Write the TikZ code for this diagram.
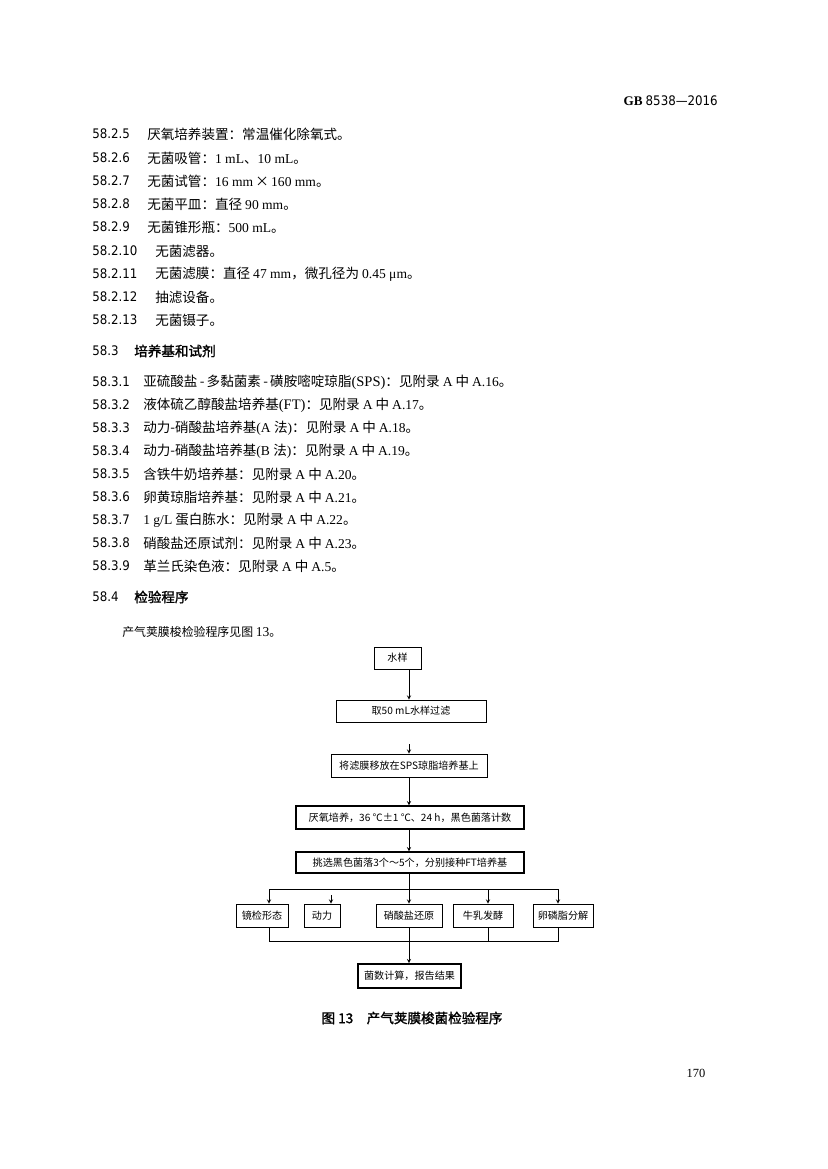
\documentclass[tikz,border=0pt]{standalone}
\usepackage{fontspec}
\setmainfont{Noto Sans CJK SC}
\newfontfamily\latf{Liberation Serif}
\newfontfamily\numf{DejaVu Sans Condensed}
\newfontfamily\cjkb{Noto Sans CJK SC}[FakeBold=1.5]
\def\pxl{0.254mm}

\begin{document}
\begin{tikzpicture}[x=0.254mm,y=-0.254mm,>=stealth]
  % Styles
    \tikzstyle{num}=[anchor=west,inner sep=0pt,font=\numf\fontsize{9.5}{11}\selectfont]
    \tikzstyle{txt}=[anchor=west,inner sep=0pt,font=\fontsize{9.8}{12}\selectfont]
    \tikzstyle{head}=[anchor=west,inner sep=0pt,font=\cjkb\fontsize{9.8}{12}\selectfont]
    \tikzstyle{box}=[draw,line width=0.5pt,inner sep=0pt,minimum height=23*\pxl,font=\fontsize{7.3}{9}\selectfont]
    \tikzstyle{heavy}=[line width=0.9pt]

  % Page
    \useasboundingbox (0,0) rectangle (827,1169);
    \node[anchor=east,inner sep=0pt] (header) at (718,101)
      {{\latf\bfseries\fontsize{9.5}{12}\selectfont GB} {\numf\fontsize{9.5}{12}\selectfont 8538—2016}};

    \foreach \yy/\secno/\xx/\linetext [count=\i] in {
      134/58.2.5/147/{厌氧培养装置：常温催化除氧式。},
      158/58.2.6/147/{无菌吸管：{\latf 1 mL}、{\latf 10 mL}。},
      181/58.2.7/147/{无菌试管：{\latf 16 mm}\,×\,{\latf 160 mm}。},
      204/58.2.8/147/{无菌平皿：直径 {\latf 90 mm}。},
      227/58.2.9/147/{无菌锥形瓶：{\latf 500 mL}。},
      251/58.2.10/155/{无菌滤器。},
      274/58.2.11/155/{无菌滤膜：直径 {\latf 47 mm}，微孔径为 {\latf 0.45 μm}。},
      297/58.2.12/155/{抽滤设备。},
      320/58.2.13/155/{无菌镊子。},
      382/58.3.1/143/{亚硫酸盐\,-\,多黏菌素\,-\,磺胺嘧啶琼脂{\latf\fontsize{10.5}{12}\selectfont (SPS)}：见附录 {\latf A} 中 {\latf A.16}。},
      405/58.3.2/143/{液体硫乙醇酸盐培养基{\latf\fontsize{10.5}{12}\selectfont (FT)}：见附录 {\latf A} 中 {\latf A.17}。},
      428/58.3.3/143/{动力-硝酸盐培养基{\latf (A }法{\latf )}：见附录 {\latf A} 中 {\latf A.18}。},
      451/58.3.4/143/{动力-硝酸盐培养基{\latf (B }法{\latf )}：见附录 {\latf A} 中 {\latf A.19}。},
      474/58.3.5/143/{含铁牛奶培养基：见附录 {\latf A} 中 {\latf A.20}。},
      497/58.3.6/143/{卵黄琼脂培养基：见附录 {\latf A} 中 {\latf A.21}。},
      520/58.3.7/143/{{\latf 1 g/L} 蛋白胨水：见附录 {\latf A} 中 {\latf A.22}。},
      543/58.3.8/143/{硝酸盐还原试剂：见附录 {\latf A} 中 {\latf A.23}。},
      566/58.3.9/143/{革兰氏染色液：见附录 {\latf A} 中 {\latf A.5}。}}
    {
      \node[num] (n\i) at (92,\yy) {\secno};
      \node[txt] (t\i) at (\xx,\yy) {\linetext};
    }

    \node[num] (sec3) at (92,351) {58.3};
    \node[head] (sec3t) at (134,351) {培养基和试剂};
    \node[num] (sec4) at (92,597) {58.4};
    \node[head] (sec4t) at (134,597) {检验程序};
    \node[txt,font=\fontsize{8.6}{11}\selectfont] (intro) at (122,632) {产气荚膜梭检验程序见图 {\latf\fontsize{9.8}{12}\selectfont 13}。};

  % The graphic
    \coordinate (spine) at (409,0);

    \node[box,minimum width=47*\pxl,minimum height=22*\pxl] (sample) at (397.5,658) {水样};
    \node[box,minimum width=150*\pxl,minimum height=22*\pxl] (filter) at (411,711) {取50 mL水样过滤};
    \node[box,minimum width=156*\pxl] (membrane) at (409,765.5) {将滤膜移放在SPS琼脂培养基上};
    \node[box,heavy,minimum width=228*\pxl] (anaerobe) at (410,817.5) {厌氧培养，36 ℃±1 ℃、24 h，黑色菌落计数};
    \node[box,heavy,minimum width=228*\pxl,minimum height=21*\pxl] (pick) at (410,862.5) {挑选黑色菌落3个～5个，分别接种FT培养基};

    \node[box,minimum width=52*\pxl] (morph) at (262,915.5) {镜检形态};
    \node[box,minimum width=36*\pxl] (motil) at (322,915.5) {动力};
    \node[box,minimum width=66*\pxl] (nitrate) at (409,915.5) {硝酸盐还原};
    \node[box,minimum width=60*\pxl] (milk) at (483,915.5) {牛乳发酵};
    \node[box,minimum width=60*\pxl] (lecith) at (563,915.5) {卵磷脂分解};

    \node[box,line width=1.2pt,minimum width=103*\pxl,minimum height=24*\pxl] (result) at (409.5,976) {菌数计算，报告结果};

    % connectors
    \coordinate (gap) at (409,744);
    \coordinate (sm) at (269,889);
    \coordinate (sd) at (331,895);
    \coordinate (sk) at (488,889);
    \coordinate (sl) at (558,889);
    \coordinate (jm) at (269,941);
    \coordinate (jk) at (488,941);
    \coordinate (jl) at (558,941);

    \draw[->] (sample.south -| spine) -- (filter.north -| spine);
    \draw[->] (gap) -- (membrane.north -| spine);
    \draw[->] (membrane.south -| spine) -- (anaerobe.north -| spine);
    \draw[->] (anaerobe.south -| spine) -- (pick.north -| spine);
    \draw (pick.south -| spine) -- (spine |- sm);
    \draw (sm) -- (sl);
    \draw[->] (sm) -- (morph.north -| sm);
    \draw[->] (sd) -- (motil.north -| sd);
    \draw[->] (spine |- sm) -- (nitrate.north -| spine);
    \draw[->] (sk) -- (milk.north -| sk);
    \draw[->] (sl) -- (lecith.north -| sl);

    \draw (morph.south -| jm) -- (jm) -- (jl) -- (lecith.south -| jl);
    \draw (nitrate.south -| spine) -- (spine |- jm);
    \draw (milk.south -| jk) -- (jk);
    \draw[->] (spine |- jm) -- (result.north -| spine);

    \node[inner sep=0pt,font=\cjkb\fontsize{9.8}{12}\selectfont] (caption) at (412,1018) {图 13\quad 产气荚膜梭菌检验程序};
    \node[inner sep=0pt,font=\latf\fontsize{9}{11}\selectfont] (pageno) at (696,1073) {170};
\end{tikzpicture}
\end{document}
